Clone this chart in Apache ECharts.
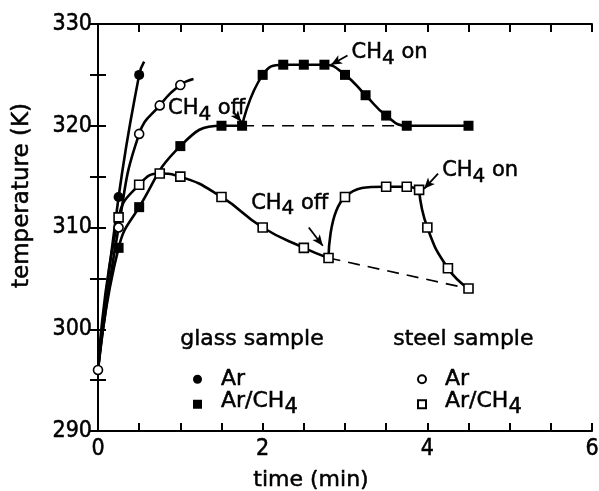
<!DOCTYPE html>
<html>
<head>
<meta charset="utf-8">
<script src="https://cdn.jsdelivr.net/npm/echarts@6/dist/echarts.min.js"></script>
<style>
  html, body { margin: 0; padding: 0; background: #fff; }
  #chart { width: 599px; height: 491px; }
</style>
</head>
<body>
<div id="chart"></div>
<script>
// Temperature of the samples (K) against time (min)
const origin = [0, 296];

// glass sample, pure Ar
const glassAr = [[0.25, 313], [0.5, 325]];
const glassArTail = [0.56, 326.3];

// steel sample, pure Ar
const steelAr = [[0.25, 310], [0.5, 319.2], [0.75, 322], [1.0, 324]];
const steelArTail = [1.16, 324.6];

// glass sample, Ar/CH4: heating, then CH4 switched off at 1.75 min
const glassMixHeat = [[0.25, 308], [0.5, 312], [1.0, 318], [1.5, 320], [1.75, 320]];
const glassMixOff = [[1.75, 320], [2.0, 325], [2.25, 326], [2.5, 326], [2.75, 326],
                     [3.0, 325], [3.25, 323], [3.5, 321], [3.75, 320], [4.5, 320]];
const glassBaseline = [[1.75, 320], [4.5, 320]];

// steel sample, Ar/CH4: heating, CH4 off at 2.8 min, on again at 3.9 min
const steelMixHeat = [[0.25, 311], [0.5, 314.2], [0.75, 315.3], [1.0, 315], [1.5, 313],
                      [2.0, 310], [2.5, 308], [2.8, 307]];
const steelMixOff = [[2.8, 307], [3.0, 313], [3.5, 314], [3.75, 314], [3.9, 313.7]];
const steelMixOn = [[3.9, 313.7], [4.0, 310], [4.25, 306], [4.5, 304]];
const steelBaseline = [[2.8, 307], [4.5, 304]];

// axis ranges and tick steps
const xRange = [0, 6], xStep = 0.5, xLabelStep = 2;
const yRange = [290, 330], yStep = 5, yLabelStep = 10;

// gas switching notes: text anchor and arrow (tail -> head), in data units
const notes = [
  { text: 'off', at: [0.85, 321.7], from: [1.64, 321.4], to: [1.74, 320.4] },
  { text: 'on',  at: [3.08, 327.2], from: [3.03, 326.9], to: [2.83, 326.0] },
  { text: 'off', at: [1.86, 312.4], from: [2.56, 310.0], to: [2.73, 308.2] },
  { text: 'on',  at: [4.18, 315.6], from: [4.13, 315.3], to: [3.96, 313.8] }
];

const FONT = '"DejaVu Sans", "Liberation Sans", sans-serif';
const FONT_NUM = '"DejaVu Sans Condensed", "DejaVu Sans", sans-serif';
const INK = '#000';
const HEAVY = { textBorderColor: INK, textBorderWidth: 0.5 };

function chemRich(size) {
  return {
    n: Object.assign({ fontFamily: FONT, fontSize: size, verticalAlign: 'top', color: INK }, HEAVY),
    s: Object.assign({ fontFamily: FONT, fontSize: size - 1, verticalAlign: 'top',
                       padding: [6, 0, 0, 0], color: INK }, HEAVY)
  };
}

const chart = echarts.init(document.getElementById('chart'), null, { renderer: 'canvas' });

function curve(data, dashed) {
  return {
    type: 'line', data: data, smooth: dashed ? false : 0.5,
    showSymbol: false, silent: true, z: 2,
    lineStyle: { color: INK, width: dashed ? 1.6 : 2.6, type: dashed ? [12, 8] : 'solid' }
  };
}

function markers(name, data, symbol, filled, size) {
  return {
    name: name, type: 'scatter', data: data, symbol: symbol, symbolSize: size, z: 5,
    itemStyle: filled
      ? { color: INK, opacity: 1 }
      : { color: '#fff', borderColor: INK, borderWidth: 1.6, opacity: 1 }
  };
}

const axisLineStyle = { lineStyle: { color: INK, width: 2 } };
const tickStyle = { show: true, inside: true, length: 8, lineStyle: { color: INK, width: 2 } };
const numLabel = Object.assign({ fontFamily: FONT_NUM, fontSize: 23, color: INK }, HEAVY);
const nameText = size => Object.assign({ fontFamily: FONT, fontSize: size, color: INK }, HEAVY);

const option = {
  backgroundColor: '#fff',
  animation: false,
  textStyle: { fontFamily: FONT, color: INK },
  grid: { left: 98, right: 7, top: 24, bottom: 60, containLabel: false, outerBoundsMode: 'none' },
  xAxis: [
    {
      type: 'value', min: xRange[0], max: xRange[1], interval: xStep,
      name: 'time (min)', nameLocation: 'middle', nameGap: 38,
      nameTextStyle: Object.assign(nameText(22), { padding: [0, 68, 0, 0] }),
      axisLine: axisLineStyle, axisTick: tickStyle, splitLine: { show: false },
      axisLabel: Object.assign({}, numLabel, {
        margin: 7,
        formatter: v => (Math.abs(v % xLabelStep) < 1e-9 ? String(v) : '')
      })
    },
    {
      type: 'value', position: 'top', min: xRange[0], max: xRange[1], interval: xStep,
      axisLine: axisLineStyle, axisTick: tickStyle, axisLabel: { show: false }, splitLine: { show: false }
    }
  ],
  yAxis: [
    {
      type: 'value', min: yRange[0], max: yRange[1], interval: yStep,
      name: 'temperature (K)', nameLocation: 'middle', nameGap: 64, nameRotate: 90,
      nameTextStyle: Object.assign(nameText(23), { padding: [0, 0, 0, 64] }),
      axisLine: axisLineStyle, axisTick: tickStyle, splitLine: { show: false },
      axisLabel: Object.assign({}, numLabel, {
        margin: 6,
        formatter: v => (v % yLabelStep === 0 ? String(v) : '')
      })
    },
    {
      type: 'value', position: 'right', min: yRange[0], max: yRange[1], interval: yStep,
      axisLine: axisLineStyle, axisTick: tickStyle, axisLabel: { show: false }, splitLine: { show: false }
    }
  ],
  legend: [
    {
      left: 188, top: 363, orient: 'vertical', itemGap: 0, itemWidth: 9, itemHeight: 9,
      data: ['glass Ar', 'glass Ar/CH4'],
      formatter: n => n === 'glass Ar' ? '{n|Ar}' : '{n|Ar/CH}{s|4}',
      textStyle: { padding: [0, 0, 0, 14], rich: chemRich(22) }
    },
    {
      left: 412, top: 363, orient: 'vertical', itemGap: 0, itemWidth: 8, itemHeight: 8,
      data: ['steel Ar', 'steel Ar/CH4'],
      formatter: n => n === 'steel Ar' ? '{n|Ar}' : '{n|Ar/CH}{s|4}',
      textStyle: { padding: [0, 0, 0, 14], rich: chemRich(22) }
    }
  ],
  graphic: [
    { type: 'text', left: 180, top: 328,
      style: { text: 'glass sample', font: '22px ' + FONT, fill: INK, stroke: INK, lineWidth: 0.5 } },
    { type: 'text', left: 393, top: 328,
      style: { text: 'steel sample', font: '22px ' + FONT, fill: INK, stroke: INK, lineWidth: 0.5 } }
  ],
  series: [
    curve([origin, ...glassAr, glassArTail]),
    curve([origin, ...steelAr, steelArTail]),
    curve([origin, ...glassMixHeat]),
    curve(glassMixOff),
    curve(glassBaseline, true),
    curve([origin, ...steelMixHeat]),
    curve(steelMixOff),
    curve(steelMixOn),
    curve(steelBaseline, true),
    markers('glass Ar', glassAr, 'circle', true, 10),
    markers('glass Ar/CH4', [...glassMixHeat, ...glassMixOff.slice(1)], 'rect', true, 10),
    markers('steel Ar', [origin, ...steelAr], 'circle', false, 9),
    markers('steel Ar/CH4', [...steelMixHeat, ...steelMixOff.slice(1), ...steelMixOn.slice(1)], 'rect', false, 9),
    {
      // gas switching notes
      type: 'scatter', silent: true, symbolSize: 0, z: 6,
      itemStyle: { opacity: 1 },
      data: notes.map(n => ({ value: n.at, note: n.text })),
      label: {
        show: true, position: 'right', distance: 0, offset: [0, 3],
        formatter: p => '{n|CH}{s|4}{n| ' + p.data.note + '}',
        rich: chemRich(21)
      }
    },
    {
      // arrows pointing at the switching moments
      type: 'line', data: [], silent: true, z: 6,
      markLine: {
        silent: true, animation: false,
        label: { show: false },
        lineStyle: { color: INK, width: 1.8, type: 'solid', opacity: 1 },
        itemStyle: { color: INK },
        data: notes.map(n => [
          { coord: n.from, symbol: 'none', symbolSize: 1 },
          { coord: n.to, symbol: 'arrow', symbolSize: [7, 11] }
        ])
      }
    }
  ]
};

chart.setOption(option);
</script>
</body>
</html>
